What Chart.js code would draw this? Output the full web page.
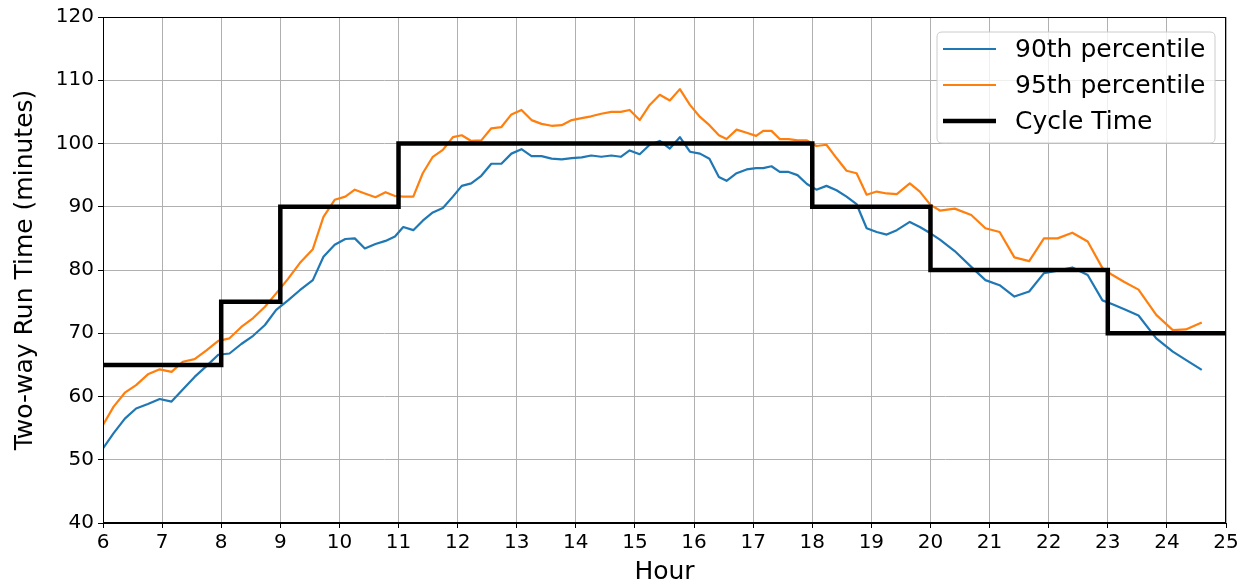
<!DOCTYPE html>
<html>
<head>
<meta charset="utf-8">
<title>Two-way Run Time by Hour</title>
<script src="https://cdn.jsdelivr.net/npm/chart.js@4/dist/chart.umd.min.js"></script>
<style>
  html, body { margin: 0; padding: 0; background: #ffffff; }
  #wrap { width: 1250px; height: 588px; }
</style>
</head>
<body>
<div id="wrap"><canvas id="chart" width="1250" height="588"></canvas></div>
<script>
// Hour of day for each observation
const hours = [6.00, 6.18, 6.37, 6.56, 6.76, 6.96, 7.16, 7.35, 7.55, 7.75, 7.95,
  8.14, 8.34, 8.54, 8.74, 8.93, 9.13, 9.33, 9.55, 9.73, 9.92,
  10.10, 10.26, 10.43, 10.61, 10.78, 10.94, 11.08, 11.25, 11.41, 11.58, 11.75, 11.92,
  12.07, 12.23, 12.40, 12.57, 12.74, 12.91, 13.08, 13.25, 13.42, 13.59, 13.76, 13.93,
  14.10, 14.26, 14.43, 14.60, 14.76, 14.91, 15.08, 15.25, 15.42, 15.59, 15.76, 15.93,
  16.10, 16.26, 16.42, 16.55, 16.72, 16.89, 17.05, 17.17, 17.31, 17.45, 17.60, 17.75, 17.91,
  18.07, 18.24, 18.41, 18.58, 18.75, 18.92, 19.09, 19.26, 19.43, 19.65, 19.82,
  20.00, 20.16, 20.41, 20.69, 20.93, 21.17, 21.42, 21.67, 21.92,
  22.15, 22.40, 22.66, 22.91, 23.08, 23.28, 23.52, 23.82, 24.10, 24.32, 24.59];

// 90th percentile two-way run time (minutes)
const p90 = [51.8, 54.2, 56.5, 58.1, 58.8, 59.6, 59.2, 61.1, 63.1, 64.8, 66.6,
  66.8, 68.3, 69.6, 71.3, 73.7, 75.2, 76.8, 78.4, 82.1, 84.0,
  84.9, 85.0, 83.4, 84.1, 84.6, 85.3, 86.8, 86.3, 87.8, 89.1, 89.8, 91.6,
  93.3, 93.7, 94.9, 96.8, 96.8, 98.4, 99.1, 98.0, 98.0, 97.6, 97.5, 97.7,
  97.8, 98.1, 97.9, 98.1, 97.9, 98.9, 98.3, 99.8, 100.4, 99.2, 101.0, 98.7,
  98.4, 97.6, 94.7, 94.1, 95.3, 95.9, 96.1, 96.1, 96.4, 95.5, 95.5, 95.0, 93.6,
  92.7, 93.3, 92.6, 91.6, 90.4, 86.6, 86.0, 85.6, 86.3, 87.6, 86.8,
  85.8, 84.8, 83.0, 80.5, 78.4, 77.6, 75.8, 76.6, 79.5,
  79.9, 80.4, 79.2, 75.2, 74.6, 73.8, 72.8, 69.2, 67.1, 65.8, 64.2];

// 95th percentile two-way run time (minutes)
const p95 = [55.5, 58.4, 60.6, 61.8, 63.5, 64.3, 63.9, 65.5, 65.9, 67.3, 68.8,
  69.2, 71.0, 72.4, 74.2, 76.3, 78.6, 81.1, 83.3, 88.4, 91.1,
  91.6, 92.7, 92.1, 91.5, 92.3, 91.7, 91.6, 91.6, 95.3, 97.9, 99.0, 101.0,
  101.3, 100.4, 100.5, 102.4, 102.6, 104.6, 105.3, 103.7, 103.1, 102.8, 102.9, 103.7,
  104.0, 104.3, 104.7, 105.0, 105.0, 105.3, 103.7, 106.1, 107.7, 106.8, 108.6, 106.1,
  104.2, 102.9, 101.3, 100.7, 102.2, 101.7, 101.2, 102.0, 102.0, 100.7, 100.7, 100.5, 100.5,
  99.6, 99.8, 97.7, 95.7, 95.3, 91.9, 92.4, 92.1, 92.0, 93.7, 92.4,
  90.3, 89.4, 89.7, 88.7, 86.6, 86.0, 82.0, 81.4, 85.0,
  85.0, 85.9, 84.5, 80.3, 79.2, 78.1, 76.9, 72.9, 70.5, 70.6, 71.7];

// Scheduled cycle time: each value holds until the next change hour
const cycleHours = [6, 8, 9, 11, 18, 20, 23, 25];
const cycleTimes = [65, 75, 90, 100, 90, 80, 70, 70];

// Axis ticks
const xTicks = [6, 7, 8, 9, 10, 11, 12, 13, 14, 15, 16, 17, 18, 19, 20, 21, 22, 23, 24, 25];
const yTicks = [40, 50, 60, 70, 80, 90, 100, 110, 120];

const FONT = "'DejaVu Sans', 'Liberation Sans', sans-serif";

const toPoints = (xs, ys) => xs.map((x, i) => ({ x: x, y: ys[i] }));

// Axes frame (all four spines) plus a boxed legend in the upper right of the plot
const frameAndLegend = {
  id: 'frameAndLegend',
  afterDraw(chart) {
    const { ctx, chartArea: a } = chart;
    ctx.save();
    ctx.strokeStyle = '#000000';
    ctx.lineWidth = 1;
    ctx.strokeRect(Math.round(a.left) + 0.5, Math.round(a.top) + 0.5,
      Math.round(a.right - a.left) - 1, Math.round(a.bottom - a.top) - 1);

    // legend box
    const bx = 937, by = 32, bw = 278, bh = 111, r = 5;
    ctx.beginPath();
    ctx.moveTo(bx + r, by);
    ctx.lineTo(bx + bw - r, by);
    ctx.quadraticCurveTo(bx + bw, by, bx + bw, by + r);
    ctx.lineTo(bx + bw, by + bh - r);
    ctx.quadraticCurveTo(bx + bw, by + bh, bx + bw - r, by + bh);
    ctx.lineTo(bx + r, by + bh);
    ctx.quadraticCurveTo(bx, by + bh, bx, by + bh - r);
    ctx.lineTo(bx, by + r);
    ctx.quadraticCurveTo(bx, by, bx + r, by);
    ctx.closePath();
    ctx.fillStyle = 'rgba(255,255,255,0.8)';
    ctx.fill();
    ctx.strokeStyle = '#cccccc';
    ctx.lineWidth = 1;
    ctx.stroke();

    ctx.font = '25px ' + FONT;
    ctx.textBaseline = 'middle';
    ctx.textAlign = 'left';
    chart.data.datasets.forEach((ds, i) => {
      const y = by + 17 + i * 36;
      ctx.beginPath();
      ctx.moveTo(bx + 6, y);
      ctx.lineTo(bx + 59, y);
      ctx.strokeStyle = ds.borderColor;
      ctx.lineWidth = ds.borderWidth;
      ctx.lineCap = 'butt';
      ctx.stroke();
      ctx.fillStyle = '#000000';
      ctx.fillText(ds.label, bx + 78, y + 1);
    });
    ctx.restore();
  }
};

new Chart(document.getElementById('chart'), {
  type: 'line',
  data: {
    datasets: [
      {
        label: '90th percentile',
        data: toPoints(hours, p90),
        borderColor: '#1f77b4',
        borderWidth: 2.2,
        pointRadius: 0,
        tension: 0,
        borderJoinStyle: 'round',
        order: 3
      },
      {
        label: '95th percentile',
        data: toPoints(hours, p95),
        borderColor: '#ff7f0e',
        borderWidth: 2.2,
        pointRadius: 0,
        tension: 0,
        borderJoinStyle: 'round',
        order: 2
      },
      {
        label: 'Cycle Time',
        data: toPoints(cycleHours, cycleTimes),
        borderColor: '#000000',
        borderWidth: 4.5,
        pointRadius: 0,
        stepped: 'before',
        borderJoinStyle: 'miter',
        order: 1
      }
    ]
  },
  options: {
    responsive: false,
    animation: false,
    devicePixelRatio: 1,
    layout: { padding: { left: 0, right: 24, top: 17, bottom: 0 } },
    plugins: {
      legend: { display: false },
      tooltip: { enabled: false }
    },
    scales: {
      x: {
        type: 'linear',
        min: 6,
        max: 25,
        afterBuildTicks: (scale) => { scale.ticks = xTicks.map(v => ({ value: v })); },
        afterFit: (scale) => { scale.height = 65; },
        ticks: {
          color: '#000000',
          font: { family: FONT, size: 20 },
          padding: 3,
          maxRotation: 0,
          autoSkip: false
        },
        grid: { color: '#b0b0b0', lineWidth: 1, tickColor: '#000000', tickLength: 5 },
        border: { display: true, color: '#000000', width: 1 },
        title: {
          display: true,
          text: 'Hour',
          color: '#000000',
          font: { family: FONT, size: 25 },
          padding: { top: 0, bottom: 1 }
        }
      },
      y: {
        type: 'linear',
        min: 40,
        max: 120,
        afterBuildTicks: (scale) => { scale.ticks = yTicks.map(v => ({ value: v })); },
        afterFit: (scale) => { scale.width = 103; },
        ticks: {
          color: '#000000',
          font: { family: FONT, size: 20 },
          padding: 4,
          autoSkip: false
        },
        grid: { color: '#b0b0b0', lineWidth: 1, tickColor: '#000000', tickLength: 5 },
        border: { display: true, color: '#000000', width: 1 },
        title: {
          display: true,
          text: 'Two-way Run Time (minutes)',
          color: '#000000',
          font: { family: FONT, size: 25 },
          padding: { top: 10, bottom: 0 }
        }
      }
    }
  },
  plugins: [frameAndLegend]
});
</script>
</body>
</html>
